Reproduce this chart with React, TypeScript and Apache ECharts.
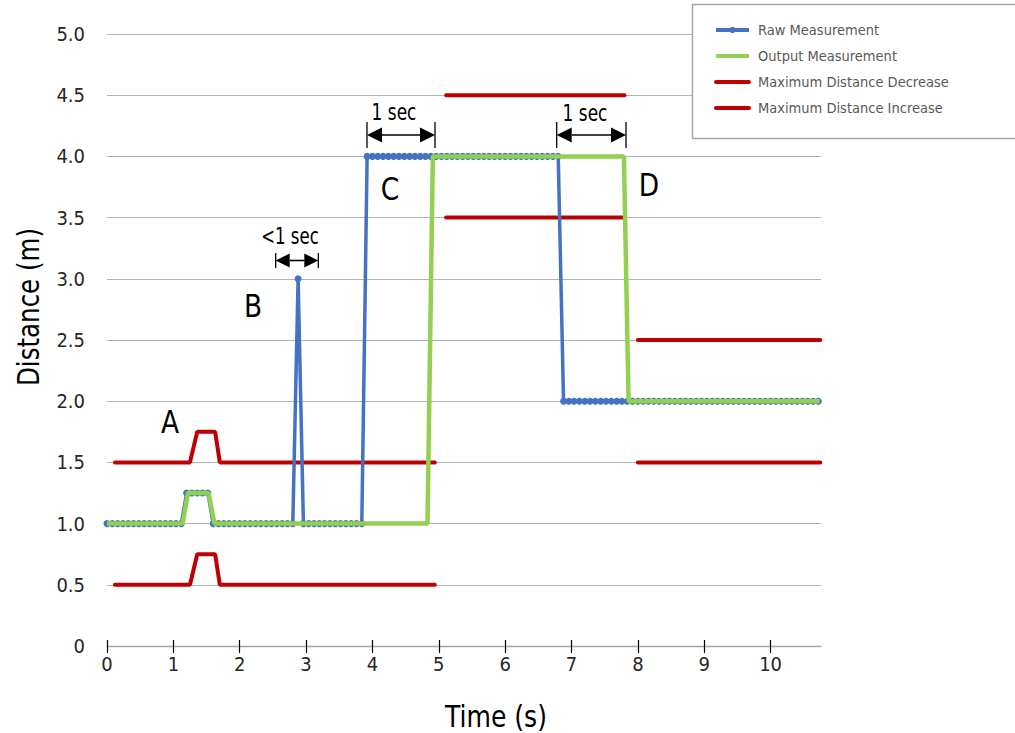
import React, { useEffect, useRef } from "react";
import * as echarts from "echarts";

const FONT = "'Liberation Sans Narrow', 'Arial Narrow', 'DejaVu Sans Condensed', 'Liberation Sans', sans-serif";

// sample instants of the raw measurement (s)
const sampleTimes = [
  0, 0.08, 0.16, 0.24, 0.32, 0.4, 0.48, 0.56, 0.64, 0.72,
  0.8, 0.88, 0.96, 1.04, 1.12, 1.2, 1.28, 1.36, 1.44, 1.52,
  1.6, 1.68, 1.76, 1.84, 1.92, 2.0, 2.08, 2.16, 2.24, 2.32,
  2.4, 2.48, 2.56, 2.64, 2.72, 2.8, 2.88, 2.96, 3.04, 3.12,
  3.2, 3.28, 3.36, 3.44, 3.52, 3.6, 3.68, 3.76, 3.84, 3.92,
  4.0, 4.08, 4.16, 4.24, 4.32, 4.4, 4.48, 4.56, 4.64, 4.72,
  4.8, 4.88, 4.96, 5.04, 5.12, 5.2, 5.28, 5.36, 5.44, 5.52,
  5.6, 5.68, 5.76, 5.84, 5.92, 6.0, 6.08, 6.16, 6.24, 6.32,
  6.4, 6.48, 6.56, 6.64, 6.72, 6.8, 6.88, 6.96, 7.04, 7.12,
  7.2, 7.28, 7.36, 7.44, 7.52, 7.6, 7.68, 7.76, 7.84, 7.92,
  8.0, 8.08, 8.16, 8.24, 8.32, 8.4, 8.48, 8.56, 8.64, 8.72,
  8.8, 8.88, 8.96, 9.04, 9.12, 9.2, 9.28, 9.36, 9.44, 9.52,
  9.6, 9.68, 9.76, 9.84, 9.92, 10.0, 10.08, 10.16, 10.24, 10.32,
  10.4, 10.48, 10.56, 10.64, 10.72,
];

// raw measurement (m), one value per sample
const rawValues = [
  1, 1, 1, 1, 1, 1, 1, 1, 1, 1,
  1, 1, 1, 1, 1, 1.25, 1.25, 1.25, 1.25, 1.25,
  1, 1, 1, 1, 1, 1, 1, 1, 1, 1,
  1, 1, 1, 1, 1, 1, 3, 1, 1, 1,
  1, 1, 1, 1, 1, 1, 1, 1, 1, 4,
  4, 4, 4, 4, 4, 4, 4, 4, 4, 4,
  4, 4, 4, 4, 4, 4, 4, 4, 4, 4,
  4, 4, 4, 4, 4, 4, 4, 4, 4, 4,
  4, 4, 4, 4, 4, 4, 2, 2, 2, 2,
  2, 2, 2, 2, 2, 2, 2, 2, 2, 2,
  2, 2, 2, 2, 2, 2, 2, 2, 2, 2,
  2, 2, 2, 2, 2, 2, 2, 2, 2, 2,
  2, 2, 2, 2, 2, 2, 2, 2, 2, 2,
  2, 2, 2, 2, 2,
];

// output measurement vertices [time, distance]
const outputPoints: [number, number][] = [
  [0, 1], [1.14, 1], [1.22, 1.25], [1.53, 1.25], [1.62, 1],
  [4.83, 1], [4.91, 4], [7.79, 4], [7.86, 2], [10.74, 2],
];

// '-' marks a break in the line
const maxDecreasePoints: [number, number | string][] = [
  [0.12, 0.5], [1.25, 0.5], [1.36, 0.75], [1.63, 0.75], [1.7, 0.5], [4.94, 0.5],
  [5.0, "-"],
  [5.11, 3.5], [7.8, 3.5],
  [7.9, "-"],
  [8.0, 1.5], [10.75, 1.5],
];

const maxIncreasePoints: [number, number | string][] = [
  [0.12, 1.5], [1.25, 1.5], [1.36, 1.75], [1.63, 1.75], [1.7, 1.5], [4.94, 1.5],
  [5.0, "-"],
  [5.11, 4.5], [7.8, 4.5],
  [7.9, "-"],
  [8.0, 2.5], [10.75, 2.5],
];

const xTickValues = [0, 1, 2, 3, 4, 5, 6, 7, 8, 9, 10];
const X_MAX = 10.76;

const BLUE = "#4472C4";
const GREEN = "#92D050";
const RED = "#C00000";

function arrow(xL: number, xR: number, yC: number, half: number, head: number) {
  const hw = head;
  const hh = head / 2;
  return [
    { type: "line", shape: { x1: xL, y1: yC - half, x2: xL, y2: yC + half }, style: { stroke: "#000", lineWidth: 1.3 }, z: 10 },
    { type: "line", shape: { x1: xR, y1: yC - half, x2: xR, y2: yC + half }, style: { stroke: "#000", lineWidth: 1.3 }, z: 10 },
    { type: "line", shape: { x1: xL + hw, y1: yC, x2: xR - hw, y2: yC }, style: { stroke: "#000", lineWidth: 1.6 }, z: 10 },
    { type: "polygon", shape: { points: [[xL, yC], [xL + hw, yC - hh], [xL + hw, yC + hh]] }, style: { fill: "#000" }, z: 10 },
    { type: "polygon", shape: { points: [[xR, yC], [xR - hw, yC - hh], [xR - hw, yC + hh]] }, style: { fill: "#000" }, z: 10 },
  ];
}

function label(text: string, x: number, y: number, size: number, scaleX = 1, rotation = 0) {
  return {
    type: "text",
    x,
    y,
    rotation,
    scaleX,
    z: 10,
    style: {
      text,
      fill: "#000",
      font: `${size}px ${FONT}`,
      textAlign: "center",
      textVerticalAlign: "middle",
    },
  };
}

export default function App() {
  const ref = useRef<HTMLDivElement>(null);

  useEffect(() => {
    document.body.style.margin = "0";
    if (!ref.current) return;
    const chart = echarts.init(ref.current, null, { renderer: "svg" });

    const rawData = sampleTimes.map((t, i) => [t, rawValues[i]]);

    chart.setOption({
      animation: false,
      backgroundColor: "#fff",
      textStyle: { fontFamily: FONT },
      grid: { left: 107, right: 194, top: 34, bottom: 87, containLabel: false },
      xAxis: [
        {
          type: "value",
          min: 0,
          max: X_MAX,
          interval: 1,
          position: "bottom",
          axisLine: { show: true, onZero: false, lineStyle: { color: "#A6A6A6", width: 1.3 } },
          axisTick: { show: true, customValues: xTickValues, length: 7, lineStyle: { color: "#000", width: 1.2 } },
          axisLabel: {
            customValues: xTickValues,
            margin: 8,
            fontSize: 20,
            color: "#262626",
            fontFamily: FONT,
            formatter: (v: number) => (Number.isInteger(v) ? String(v) : ""),
          },
          splitLine: { show: false },
        },
        {
          type: "value",
          min: 0,
          max: X_MAX,
          interval: 1,
          position: "bottom",
          axisLine: { show: false, onZero: false },
          axisTick: { show: true, inside: true, customValues: xTickValues, length: 6, lineStyle: { color: "#000", width: 1.2 } },
          axisLabel: { show: false },
          splitLine: { show: false },
        },
      ],
      yAxis: {
        type: "value",
        min: 0,
        max: 5,
        interval: 0.5,
        axisLine: { show: false },
        axisTick: { show: false },
        axisLabel: {
          margin: 22,
          fontSize: 20,
          color: "#262626",
          fontFamily: FONT,
          formatter: (v: number) => (v === 0 ? "0" : v.toFixed(1)),
        },
        splitLine: { show: true, lineStyle: { color: "#B4B4B4", width: 1.2 } },
      },
      legend: {
        orient: "vertical",
        left: 714,
        top: 22,
        padding: 0,
        itemWidth: 33,
        itemHeight: 8,
        itemGap: 10,
        z: 20,
        lineStyle: { width: 4 },
        textStyle: { fontSize: 14.5, lineHeight: 16, color: "#595959", fontFamily: FONT, padding: [0, 0, 0, 4] },
        data: [
          { name: "Raw Measurement" },
          { name: "Output Measurement", itemStyle: { opacity: 0 } },
          { name: "Maximum Distance Decrease", itemStyle: { opacity: 0 } },
          { name: "Maximum Distance Increase", itemStyle: { opacity: 0 } },
        ],
      },
      series: [
        {
          name: "Maximum Distance Decrease",
          type: "line",
          data: maxDecreasePoints,
          symbol: "none",
          connectNulls: false,
          lineStyle: { color: RED, width: 4, cap: "round" },
          itemStyle: { color: RED },
          z: 2,
        },
        {
          name: "Maximum Distance Increase",
          type: "line",
          data: maxIncreasePoints,
          symbol: "none",
          connectNulls: false,
          lineStyle: { color: RED, width: 4, cap: "round" },
          itemStyle: { color: RED },
          z: 2,
        },
        {
          name: "Raw Measurement",
          type: "line",
          data: rawData,
          symbol: "circle",
          symbolSize: 7,
          showSymbol: true,
          lineStyle: { color: BLUE, width: 3.5 },
          itemStyle: { color: BLUE, borderWidth: 0 },
          z: 3,
        },
        {
          name: "Output Measurement",
          type: "line",
          data: outputPoints,
          symbol: "none",
          lineStyle: { color: GREEN, width: 4.5 },
          itemStyle: { color: GREEN },
          z: 4,
        },
      ],
      graphic: [
        {
          type: "rect",
          shape: { x: 692.5, y: 4.5, width: 420, height: 134 },
          style: { fill: "#fff", stroke: "#A6A6A6", lineWidth: 1.5 },
          z: 15,
        },
        label("Distance (m)", 28, 307, 31, 0.88, Math.PI / 2),
        label("Time (s)", 496, 716, 31, 0.9),
        label("A", 170, 422, 32, 0.92),
        label("B", 253, 306, 32, 0.92),
        label("C", 390, 189, 32, 0.92),
        label("D", 649, 185, 32, 0.92),
        label("<1 sec", 290, 236, 23, 0.8),
        label("1 sec", 394, 112, 23, 0.82),
        label("1 sec", 585, 113, 23, 0.82),
        ...arrow(275.7, 318.3, 260.5, 7.5, 14),
        ...arrow(367, 435, 135, 13, 15),
        ...arrow(556.7, 626, 135, 13, 15),
      ],
    });

    return () => chart.dispose();
  }, []);

  return <div ref={ref} style={{ width: 1015, height: 733 }} />;
}
